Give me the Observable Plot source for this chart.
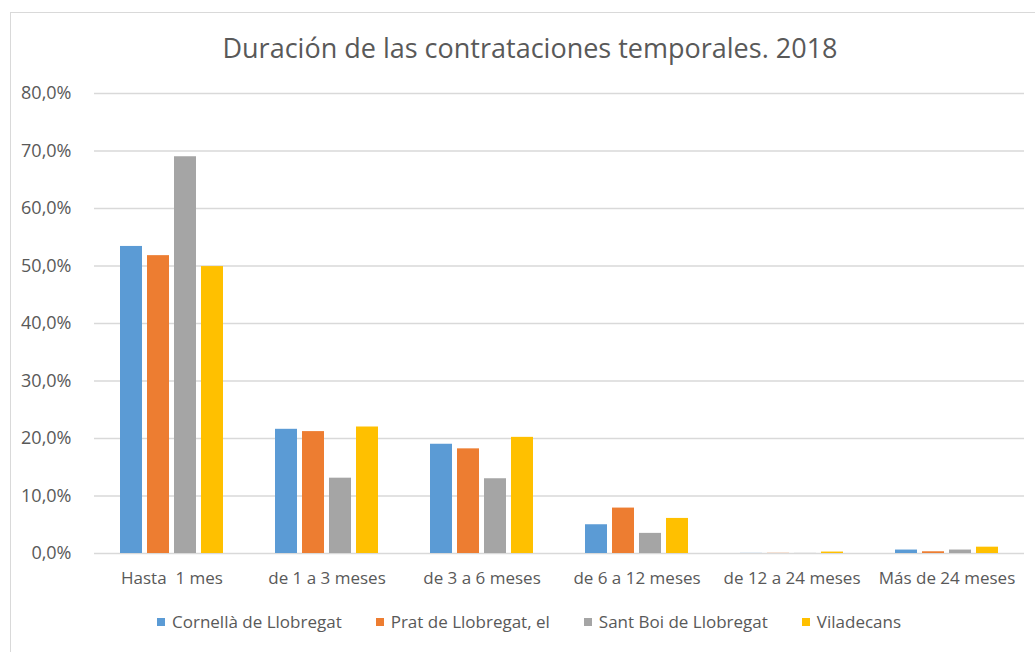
<!DOCTYPE html>
<html>
<head>
<meta charset="utf-8">
<script src="https://cdn.jsdelivr.net/npm/d3@7"></script>
<script src="https://cdn.jsdelivr.net/npm/@observablehq/plot@0.6"></script>
<style>
  html, body { margin: 0; padding: 0; background: #fff; overflow: hidden; width: 1035px; height: 652px; }
  body { position: relative; font-family: "Open Sans", sans-serif; color: #595959; }
  #frame { position: absolute; left: 10px; top: 12px; width: 1100px; height: 700px; border: 1px solid #d9d9d9; box-sizing: border-box; }
  #title { position: absolute; left: 0; top: 29px; width: 1060px; text-align: center; font-size: 27px; font-weight: 400; color: #595959; line-height: 38px; }
  #chart { position: absolute; left: 0; top: 70px; }
  #chart svg text { white-space: pre; }
  #legend { position: absolute; left: 157px; top: 610px; display: flex; gap: 34px; font-size: 17px; line-height: 24px; color: #595959; }
  .item { display: flex; align-items: center; gap: 7px; white-space: nowrap; }
  .sw { width: 8px; height: 8px; display: inline-block; }
</style>
</head>
<body>
<div id="frame"></div>
<div id="title">Duración de las contrataciones temporales. 2018</div>
<div id="chart"></div>
<div id="legend"></div>
<script>
const categories = ["Hasta  1 mes", "de 1 a 3 meses", "de 3 a 6 meses", "de 6 a 12 meses", "de 12 a 24 meses", "Más de 24 meses"];
const series = ["Cornellà de Llobregat", "Prat de Llobregat, el", "Sant Boi de Llobregat", "Viladecans"];
const colors = ["#5B9BD5", "#ED7D31", "#A5A5A5", "#FFC000"];
const cornella = [53.4, 21.6, 19.0, 5.0, 0.02, 0.6];
const prat = [51.8, 21.2, 18.2, 7.9, 0.03, 0.3];
const santboi = [69.0, 13.1, 13.0, 3.5, 0.02, 0.6];
const viladecans = [49.9, 22.0, 20.2, 6.1, 0.25, 1.1];
const yTicks = [0, 10, 20, 30, 40, 50, 60, 70, 80];

const valuesBySeries = [cornella, prat, santboi, viladecans];
const data = [];
categories.forEach((c, i) => {
  series.forEach((s, j) => data.push({cat: c, series: s, value: valuesBySeries[j][i]}));
});

const fmt = d => d.toFixed(1).replace(".", ",") + "%";

const chart = Plot.plot({
  width: 1035,
  height: 530,
  marginLeft: 92,
  marginRight: 10,
  marginTop: 23,
  marginBottom: 47,
  style: {fontFamily: "'Open Sans', sans-serif", fontSize: "17px", color: "#595959", background: "transparent"},
  fx: {domain: categories, padding: 0, label: null, axis: "bottom", tickSize: 0, tickPadding: 18},
  x: {domain: series, paddingInner: 0.2, paddingOuter: 0.92, axis: null},
  y: {domain: [0, 80], ticks: yTicks, tickFormat: fmt, label: null, axis: null},
  color: {domain: series, range: colors},
  marks: [
    Plot.gridY(yTicks, {stroke: "#d9d9d9", strokeOpacity: 1, strokeWidth: 1.5}),
    Plot.axisY(yTicks, {tickSize: 0, tickPadding: 23, tickFormat: fmt, fontSize: 18, label: null}),
    Plot.barY(data, {fx: "cat", x: "series", y: "value", fill: "series"})
  ]
});
document.getElementById("chart").appendChild(chart);

const legend = document.getElementById("legend");
series.forEach((s, i) => {
  const it = document.createElement("div");
  it.className = "item";
  const sw = document.createElement("span");
  sw.className = "sw";
  sw.style.background = colors[i];
  const t = document.createElement("span");
  t.textContent = s;
  it.appendChild(sw);
  it.appendChild(t);
  legend.appendChild(it);
});
</script>
</body>
</html>
